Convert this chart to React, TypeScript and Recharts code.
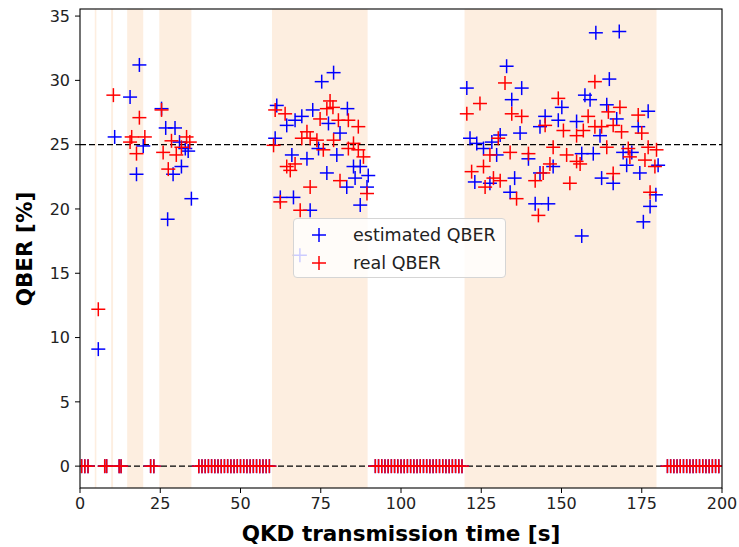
import {
  ScatterChart,
  Scatter,
  XAxis,
  YAxis,
  ReferenceArea,
  ReferenceLine,
} from "recharts";

document.body.style.margin = "0";

// seconds where no key was distilled (QBER reported as 0)
const idleTimes = [
  0.5, 1.5, 2.5, 7.7, 8.3, 12.2, 12.8, 22, 23, 37, 38, 39, 40, 41, 42, 43, 44,
  45, 46, 47, 48, 49, 50, 51, 52, 53, 54, 55, 56, 57, 58, 59, 92, 93, 94, 95, 96,
  97, 98, 99, 100, 101, 102, 103, 104, 105, 106, 107, 108, 109, 110, 111, 112,
  113, 114, 115, 116, 117, 118, 119, 183, 184, 185, 186, 187, 188, 189, 190, 191,
  192, 193, 194, 195, 196, 197, 198, 199,
];

// [time s, QBER %]
const estimatedQber: [number, number][] = [
  [5.7, 9.1], [10.8, 25.6], [15.6, 28.7], [18.5, 31.2], [19.7, 24.9],
  [17.6, 22.7], [25.4, 27.8], [26.7, 26.3], [29.6, 26.3], [27.3, 19.2],
  [29.0, 22.7], [31.6, 23.3], [33.7, 24.5], [34.7, 20.8], [31.0, 25.2],
  [32.8, 24.7],
  [61.3, 28.05], [60.8, 25.5], [64.4, 26.5], [67.0, 26.9], [69.1, 27.2],
  [72.5, 27.7], [75.3, 29.9], [79.0, 30.6], [77.4, 26.65], [83.3, 27.8],
  [81.0, 25.9], [66.0, 24.2], [70.7, 23.9], [74.3, 24.7], [80.0, 24.2],
  [85.2, 23.3], [87.3, 23.3], [89.8, 22.6], [76.9, 22.8], [85.7, 22.4],
  [83.1, 21.7], [89.4, 21.7], [62.4, 20.9], [66.5, 20.9], [71.7, 19.9],
  [87.3, 20.3], [68.5, 16.4],
  [120.5, 29.4], [132.9, 31.1], [137.6, 29.4], [134.5, 28.5], [150.1, 27.9],
  [157.3, 28.85], [144.9, 27.2], [149.0, 26.9], [154.7, 26.8], [143.3, 26.4],
  [137.1, 25.9], [130.9, 25.75], [121.5, 25.5], [123.6, 25.1], [125.7, 24.7],
  [128.3, 25.2], [129.8, 24.2], [139.7, 23.9], [147.4, 23.3], [143.3, 22.8],
  [123.0, 22.1], [127.7, 22.0], [135.4, 22.4], [134.0, 21.3], [141.8, 20.4],
  [145.9, 20.4], [156.3, 17.9],
  [160.7, 33.7], [168.0, 33.8], [164.9, 30.1], [158.9, 28.5], [164.1, 28.1],
  [167.2, 27.0], [177.0, 27.6], [173.9, 26.4], [162.0, 25.7], [159.9, 24.3],
  [156.3, 24.3], [169.2, 24.4], [171.9, 24.4], [170.3, 23.4], [174.4, 22.8],
  [180.1, 23.4], [162.5, 22.4], [166.1, 22.0], [179.4, 21.1], [177.6, 20.2],
  [175.5, 19.0],
];

const realQber: [number, number][] = [
  [5.7, 12.2], [10.4, 28.85], [18.5, 27.1], [16.1, 25.6], [20.2, 25.6],
  [15.6, 25.2], [17.6, 24.3], [25.4, 27.7], [25.9, 24.4], [28.5, 25.3],
  [30.0, 24.2], [27.5, 23.1], [31.6, 24.8], [33.2, 25.6], [34.2, 25.2],
  [77.9, 28.4], [78.8, 27.9], [60.8, 27.7], [63.9, 27.4], [74.8, 27.0],
  [76.9, 27.8], [80.5, 26.9], [83.6, 26.9], [86.7, 26.4], [70.7, 26.0],
  [69.1, 25.5], [71.7, 25.5], [73.8, 25.35], [60.3, 24.95], [79.0, 25.35],
  [75.8, 24.6], [85.2, 25.1], [83.6, 24.7], [86.7, 24.6], [88.3, 24.05],
  [67.0, 23.5], [64.4, 23.3], [65.5, 23.0], [71.7, 21.7], [81.0, 22.2],
  [89.4, 21.2], [62.4, 20.55], [68.6, 19.9],
  [132.4, 29.8], [124.6, 28.2], [120.5, 27.4], [134.5, 27.4], [137.6, 27.2],
  [149.0, 28.6], [158.3, 27.2], [144.9, 26.5], [150.6, 26.1], [154.7, 25.7],
  [130.3, 25.5], [134.0, 24.4], [139.7, 24.3], [147.4, 24.8], [151.6, 24.2],
  [127.7, 24.2], [146.4, 23.5], [154.7, 23.7], [125.7, 23.3], [122.0, 22.9],
  [128.8, 22.4], [130.9, 22.2], [141.8, 22.2], [144.3, 22.8], [152.6, 22.0],
  [126.2, 21.7], [136.0, 20.8], [142.8, 19.5],
  [160.4, 29.9], [164.6, 27.55], [168.2, 27.9], [173.9, 27.3], [156.8, 26.1],
  [160.4, 26.4], [162.5, 26.4], [166.1, 26.5], [168.7, 26.0], [175.0, 25.9],
  [164.1, 24.8], [170.8, 24.7], [177.0, 24.8], [179.6, 24.6], [171.3, 24.05],
  [176.0, 23.8], [179.1, 23.3], [155.8, 23.5], [166.1, 22.75], [177.6, 21.3],
];

// transmission windows [start, end] in seconds
const activeWindows: [number, number][] = [
  [4.6, 5.1],
  [9.7, 10.3],
  [14.7, 19.7],
  [24.7, 34.7],
  [59.8, 89.6],
  [119.8, 179.6],
];

const thresholdQber = 25;
const xTicks = [0, 25, 50, 75, 100, 125, 150, 175, 200];
const yTicks = [0, 5, 10, 15, 20, 25, 30, 35];

const W = 739;
const H = 547;
const PLOT_LEFT = 80;
const PLOT_RIGHT = 722;
const PLOT_TOP = 9;
const PLOT_BOTTOM = 488;
const ARM = 7;
const FONT = "DejaVu Sans, sans-serif";

const toRows = (pts: [number, number][]) => [
  ...idleTimes.map((t) => ({ t, q: 0 })),
  ...pts.map(([t, q]) => ({ t, q })),
];

function Cross(props: any) {
  const { cx, cy, color } = props;
  if (cx == null || cy == null) return null;
  const x1 = Math.max(cx - ARM, PLOT_LEFT);
  const x2 = Math.min(cx + ARM, PLOT_RIGHT);
  return (
    <g>
      <line x1={x1} x2={x2} y1={cy} y2={cy} stroke={color} strokeWidth={1.5} />
      {cx >= PLOT_LEFT && cx <= PLOT_RIGHT && (
        <line
          x1={cx}
          x2={cx}
          y1={cy - ARM}
          y2={cy + ARM}
          stroke={color}
          strokeWidth={1.5}
        />
      )}
    </g>
  );
}

function LegendCross({ color }: { color: string }) {
  return (
    <svg width={16} height={16} style={{ display: "block" }}>
      <line x1={1} x2={15} y1={8} y2={8} stroke={color} strokeWidth={1.5} />
      <line x1={8} x2={8} y1={1} y2={15} stroke={color} strokeWidth={1.5} />
    </svg>
  );
}

export default function App() {
  const tickStyle = { fill: "#222", fontSize: 16, fontFamily: FONT };
  return (
    <div style={{ position: "relative", width: W, height: H, background: "#fff" }}>
      <ScatterChart
        width={W}
        height={H}
        margin={{ top: PLOT_TOP, right: W - PLOT_RIGHT, bottom: 0, left: 30 }}
      >
        {activeWindows.map(([a, b]) => (
          <ReferenceArea
            key={a}
            x1={a}
            x2={b}
            y1={-1.7}
            y2={35.55}
            fill="#fdeee0"
            fillOpacity={1}
            stroke="none"
            ifOverflow="hidden"
          />
        ))}
        <XAxis
          type="number"
          dataKey="t"
          domain={[0, 200]}
          ticks={xTicks}
          interval={0}
          allowDataOverflow
          height={59}
          axisLine={false}
          tickLine={{ stroke: "#000", strokeWidth: 1 }}
          tickSize={5}
          tickMargin={5}
          tick={tickStyle}
        />
        <YAxis
          type="number"
          dataKey="q"
          domain={[-1.7, 35.55]}
          ticks={yTicks}
          interval={0}
          allowDataOverflow
          width={50}
          axisLine={false}
          tickLine={{ stroke: "#000", strokeWidth: 1 }}
          tickSize={5}
          tickMargin={5}
          tick={tickStyle}
        />
        <Scatter
          name="estimated QBER"
          data={toRows(estimatedQber)}
          isAnimationActive={false}
          shape={(p: any) => <Cross {...p} color="#0000ff" />}
        />
        <Scatter
          name="real QBER"
          data={toRows(realQber)}
          isAnimationActive={false}
          shape={(p: any) => <Cross {...p} color="#ff0000" />}
        />
        <ReferenceLine
          y={thresholdQber}
          stroke="#000"
          strokeWidth={1.4}
          strokeDasharray="6 3"
        />
        <ReferenceLine y={0} stroke="#000" strokeWidth={1.4} strokeDasharray="6 3" />
      </ScatterChart>

      {/* axes frame */}
      <svg
        width={W}
        height={H}
        style={{ position: "absolute", left: 0, top: 0, pointerEvents: "none" }}
      >
        <rect
          x={PLOT_LEFT}
          y={PLOT_TOP}
          width={PLOT_RIGHT - PLOT_LEFT}
          height={PLOT_BOTTOM - PLOT_TOP}
          fill="none"
          stroke="#000"
          strokeWidth={1.1}
        />
      </svg>

      {/* legend */}
      <div
        style={{
          position: "absolute",
          left: 293,
          top: 218,
          width: 211,
          height: 58,
          background: "rgba(255,255,255,0.8)",
          border: "1px solid #d5d5d5",
          borderRadius: 4,
          fontFamily: FONT,
          fontSize: 17.5,
          color: "#222",
        }}
      >
        {[
          { label: "estimated QBER", color: "#0000ff", top: 6 },
          { label: "real QBER", color: "#ff0000", top: 34 },
        ].map((e) => (
          <div
            key={e.label}
            style={{
              position: "absolute",
              left: 17,
              top: e.top,
              display: "flex",
              alignItems: "center",
              height: 20,
            }}
          >
            <LegendCross color={e.color} />
            <span style={{ marginLeft: 26, whiteSpace: "nowrap" }}>{e.label}</span>
          </div>
        ))}
      </div>

      {/* axis titles */}
      <div
        style={{
          position: "absolute",
          left: PLOT_LEFT,
          width: PLOT_RIGHT - PLOT_LEFT,
          top: 521,
          textAlign: "center",
          fontFamily: FONT,
          fontWeight: "bold",
          fontSize: 21.5,
          lineHeight: "26px",
          color: "#000",
        }}
      >
        QKD transmission time [s]
      </div>
      <div
        style={{
          position: "absolute",
          left: 25,
          top: (PLOT_TOP + PLOT_BOTTOM) / 2,
          transform: "translate(-50%, -50%) rotate(-90deg)",
          fontFamily: FONT,
          fontWeight: "bold",
          fontSize: 21.5,
          lineHeight: "26px",
          whiteSpace: "nowrap",
          color: "#000",
        }}
      >
        QBER [%]
      </div>
    </div>
  );
}
